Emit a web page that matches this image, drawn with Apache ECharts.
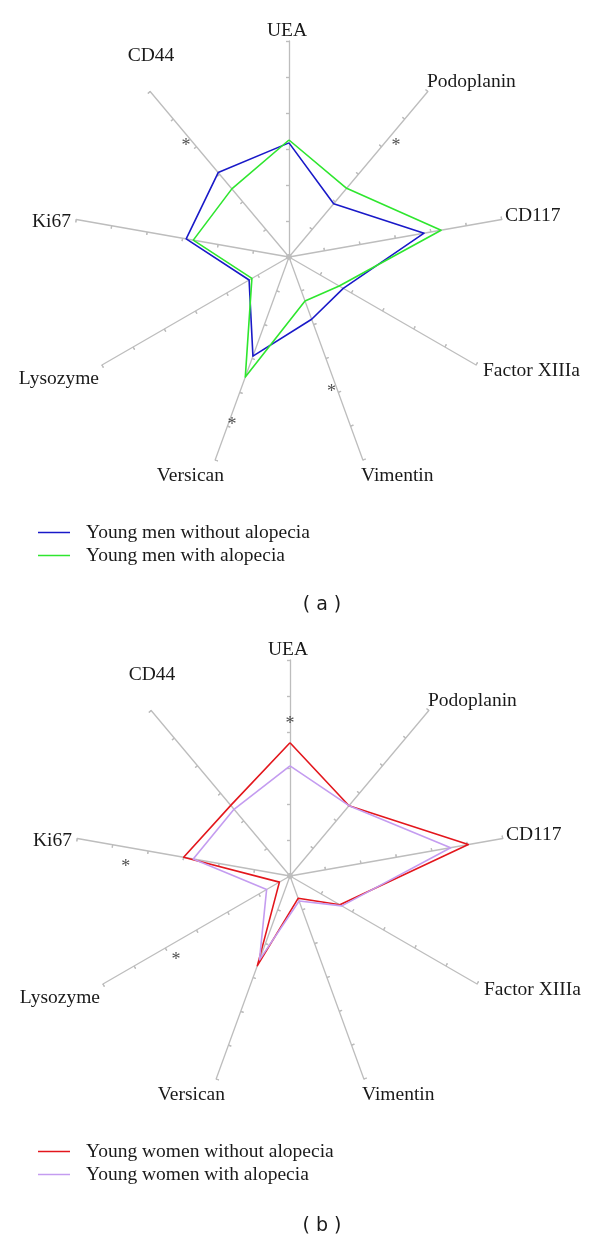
<!DOCTYPE html>
<html><head><meta charset="utf-8">
<script src="https://cdn.jsdelivr.net/npm/echarts@6/dist/echarts.min.js"></script>
<style>html,body{margin:0;padding:0;background:#fff}#c{width:600px;height:1238px}</style>
</head><body><div id="c"></div>
<script>
// ---- data (indicators listed clockwise from the top) ----
const categories = ['UEA','Podoplanin','CD117','Factor XIIIa','Vimentin','Versican','Lysozyme','Ki67','CD44'];
const axisMax = 6;
const axisSplits = 6;
const menWithout   = [3.17,1.93,3.81,1.74,1.84,2.93,1.28,2.90,3.06];
const menWith      = [3.25,2.49,4.29,1.61,1.30,3.55,1.19,2.70,2.47];
const womenWithout = [3.70,2.55,5.03,1.60,0.66,2.65,0.34,3.00,2.56];
const womenWith    = [3.06,2.55,4.53,1.66,0.74,2.48,0.75,2.73,2.42];
const namesMen   = ['Young men without alopecia','Young men with alopecia'];
const namesWomen = ['Young women without alopecia','Young women with alopecia'];
// significance marks: [indicator, value along axis]
const sigMen   = [['CD44',4.29],['Podoplanin',4.36],['Versican',4.84],['Vimentin',3.83]];
const sigWomen = [['UEA',4.33],['Ki67',4.58],['Lysozyme',3.87]];
const panelTags = ['( a )','( b )'];

// ---- layout ----
const centers = [[289,257],[290,876]];
const R = 216;
const sigAngleShiftMen = [-1.8, 3, -0.9, 2];
const sigAngleShiftWomen = [0, -5.4, -5];
const labelLayout = [[-2,-226,'center'],[138,-175,'left'],[216,-41,'left'],[194,114,'left'],
  [72,219,'left'],[-65,219,'right'],[-190,122,'right'],[-218,-35,'right'],[-138,-201,'center']];
const serif = '"Liberation Serif", "Times New Roman", serif';
const axisColor = '#bdbdbd';

// ECharts radar places indicators counter-clockwise
const order = [0,8,7,6,5,4,3,2,1];
const reorder = arr => order.map(i => arr[i]);
const indicators = order.map(i => ({name: categories[i], min: 0, max: axisMax}));

function radarPair(center){
  const base = {center, radius: R, startAngle: 90, indicator: indicators, splitNumber: axisSplits,
    shape: 'polygon', silent: true, axisName: {show: false},
    splitLine: {show: false}, splitArea: {show: false}, axisLabel: {show: false}};
  return [
    Object.assign({}, base, {axisLine: {show: true, lineStyle: {color: axisColor, width: 1.3}},
      axisTick: {show: true, length: 3, lineStyle: {color: axisColor, width: 1.2}}}),
    Object.assign({}, base, {axisLine: {show: false},
      axisTick: {show: true, inside: true, length: 3, lineStyle: {color: axisColor, width: 1.2}}})
  ];
}

function radarSeries(radarIndex, names, vals, colors){
  return {type: 'radar', radarIndex, symbol: 'none', silent: true,
    data: vals.map((v, k) => ({name: names[k], value: reorder(v),
      lineStyle: {color: colors[k], width: 1.6}, itemStyle: {color: colors[k]}}))};
}

function sigSeries(polarIndex, sig, shifts){
  return {type: 'scatter', coordinateSystem: 'polar', polarIndex, symbolSize: 1, silent: true,
    itemStyle: {color: 'rgba(0,0,0,0)'},
    label: {show: true, formatter: '*', position: 'inside', fontSize: 18, fontFamily: serif,
      color: '#222', offset: [0, 4]},
    data: sig.map((s, k) => [s[1], categories.indexOf(s[0]) * 360 / categories.length + shifts[k]])};
}

const graphics = [];
centers.forEach((c, p) => {
  categories.forEach((name, i) => {
    const L = labelLayout[i];
    graphics.push({type: 'text', x: c[0] + L[0], y: c[1] + L[1], silent: true,
      style: {text: name, align: L[2], verticalAlign: 'middle', font: '19.5px ' + serif, fill: '#1a1a1a'}});
  });
});
graphics.push({type: 'text', x: 322, y: 605, style: {text: panelTags[0], align: 'center', verticalAlign: 'middle',
  font: '19px "DejaVu Sans", sans-serif', fill: '#1a1a1a'}});
graphics.push({type: 'text', x: 322, y: 1226, style: {text: panelTags[1], align: 'center', verticalAlign: 'middle',
  font: '19px "DejaVu Sans", sans-serif', fill: '#1a1a1a'}});

const legendBase = {orient: 'vertical', left: 33, icon: 'rect', itemWidth: 32, itemHeight: 1.5,
  itemGap: 3, selectedMode: false,
  textStyle: {fontFamily: serif, fontSize: 19.5, color: '#1a1a1a', lineHeight: 20, padding: [0, 0, 0, 11]}};

const option = {
  backgroundColor: '#fff',
  animation: false,
  radar: [...radarPair(centers[0]), ...radarPair(centers[1])],
  polar: centers.map(c => ({center: c, radius: R})),
  angleAxis: [0, 1].map(p => ({polarIndex: p, type: 'value', min: 0, max: 360, startAngle: 90,
    clockwise: true, show: false})),
  radiusAxis: [0, 1].map(p => ({polarIndex: p, type: 'value', min: 0, max: axisMax, show: false})),
  legend: [
    Object.assign({}, legendBase, {top: 517.5, data: namesMen}),
    Object.assign({}, legendBase, {top: 1136.5, data: namesWomen})
  ],
  series: [
    radarSeries(0, namesMen, [menWithout, menWith], ['#1919c8', '#2ee62e']),
    radarSeries(2, namesWomen, [womenWith, womenWithout].reverse(), ['#e3161c', '#c49cf0']),
    sigSeries(0, sigMen, sigAngleShiftMen),
    sigSeries(1, sigWomen, sigAngleShiftWomen)
  ],
  graphic: {elements: graphics}
};
const chart = echarts.init(document.getElementById('c'), null, {renderer: 'canvas'});
chart.setOption(option);
</script></body></html>
